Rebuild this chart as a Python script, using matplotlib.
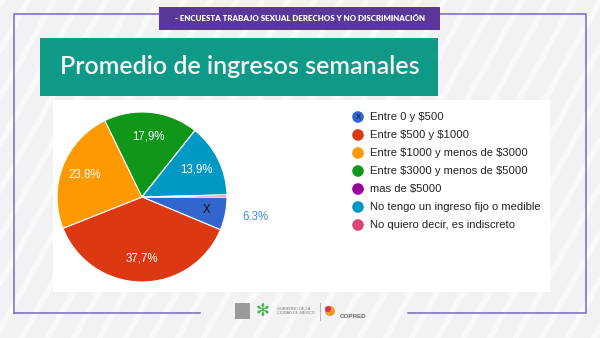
import numpy as np
import matplotlib.pyplot as plt
from matplotlib.patches import Rectangle, Circle

plt.rcParams['text.parse_math'] = False

# ── DATA ─────────────────────────────────────────────────────────────────────
categories = ['Entre 0 y $500', 'Entre $500 y $1000', 'Entre $1000 y menos de $3000',
              'Entre $3000 y menos de $5000', 'mas de $5000',
              'No tengo un ingreso fijo o medible', 'No quiero decir, es indiscreto']
shares = [6.3, 37.7, 23.8, 17.9, 0.0, 13.9, 0.4]
colors = ['#3366cc', '#dc3912', '#ff9900', '#109618', '#990099', '#0099c6', '#dd4477']
pct_labels = ['6.3%', '37,7%', '23,8%', '17,9%', '', '13,9%', '']

title = 'Promedio de ingresos semanales'
banner = '- ENCUESTA TRABAJO SEXUAL DERECHOS Y NO DISCRIMINACIÓN'

W, H = 600, 338
fig = plt.figure(figsize=(6, 3.38), dpi=100)
fig.patch.set_facecolor('#f2f2f4')

# ── BACKGROUND / FRAME (pixel coordinates, y down) ───────────────────────────
bg = fig.add_axes([0, 0, 1, 1])
bg.set_xlim(0, W)
bg.set_ylim(H, 0)
bg.axis('off')

# faint diagonal pattern
for x0 in np.arange(-400, 700, 26):
    bg.plot([x0, x0 + 200], [H + 10, -10], color='white', lw=4, alpha=0.6,
            solid_capstyle='butt', zorder=0)

# white panel behind the chart
bg.add_patch(Rectangle((53, 100), 497, 192, facecolor='white', edgecolor='none', zorder=1))

# purple frame with a gap for the logos
frame_c = '#7b68b8'
bg.plot([14, 14, 586, 586, 408], [313, 14, 14, 313, 313], color=frame_c, lw=1.1, zorder=2)
bg.plot([14, 200], [313, 313], color=frame_c, lw=1.1, zorder=2)

# top purple banner
bg.add_patch(Rectangle((159, 7), 281, 23, facecolor='#5a3798', edgecolor='none', zorder=3))
bg.text(300, 18.5, banner, color='white', fontsize=5.7, fontweight='heavy',
        ha='center', va='center', family='Lato', zorder=4)

# green title banner
bg.add_patch(Rectangle((40, 38), 398, 58, facecolor='#0e9a86', edgecolor='none', zorder=3))
bg.text(240, 66, title, color='#f4f4f4', fontsize=18, fontweight='semibold',
        ha='center', va='center', family='Lato', zorder=4)

# ── LEGEND ───────────────────────────────────────────────────────────────────
for i, (name, c) in enumerate(zip(categories, colors)):
    y = 117 + i * 18
    bg.add_patch(Circle((358, y), 5.8, facecolor=c, edgecolor='none', zorder=5))
    bg.text(370, y, name, fontsize=8.1, color='#222222', va='center',
            family='Liberation Sans', zorder=5)
bg.text(358, 117.5, 'X', fontsize=5.5, color='#111111', ha='center', va='center',
        family='Liberation Sans', zorder=6)

# ── FOOTER LOGOS ─────────────────────────────────────────────────────────────
bg.add_patch(Rectangle((235, 303), 15, 16, facecolor='#9a9a9a', edgecolor='none', zorder=3))
bg.text(263, 311, '✻', fontsize=12, color='#3cb44a', ha='center', va='center',
        family='DejaVu Sans', zorder=3)
bg.text(277, 311, 'GOBIERNO DE LA\nCIUDAD DE MÉXICO', fontsize=2.8, color='#777777',
        va='center', family='Liberation Sans', linespacing=1.3, zorder=3)
bg.plot([320, 320], [303, 320], color='#aaaaaa', lw=0.6, zorder=3)
bg.add_patch(Circle((330, 311), 5, facecolor='#f39a1f', edgecolor='none', zorder=3))
bg.add_patch(Circle((328, 309), 3, facecolor='#d6335c', edgecolor='none', zorder=3))
bg.text(340, 316, 'COPRED', fontsize=4.5, color='#666666', fontweight='bold',
        va='center', family='Liberation Sans', zorder=3)

# ── PIE ──────────────────────────────────────────────────────────────────────
cx, cy, r = 142, 197, 85
pax = fig.add_axes([(cx - r) / W, (H - cy - r) / H, 2 * r / W, 2 * r / H])
pax.pie(shares, colors=colors, startangle=0, counterclock=False, radius=1,
        wedgeprops=dict(edgecolor='white', linewidth=0.8))
pax.set_xlim(-1, 1)
pax.set_ylim(-1, 1)
pax.axis('off')

# slice labels placed at each wedge's mid angle
start = 0.0
total = sum(shares)
for i, (v, lab) in enumerate(zip(shares, pct_labels)):
    mid = np.deg2rad(start - v / total * 360 / 2)
    start -= v / total * 360
    if not lab:
        continue
    if i == 0:
        pax.text(0.77 * np.cos(mid), 0.77 * np.sin(mid), 'X', fontsize=8.3,
                 color='#111111', ha='center', va='center', family='Liberation Sans')
        pax.text(1.2 * np.cos(mid), 1.2 * np.sin(mid), lab, fontsize=8.3,
                 color='#3b8fe0', ha='left', va='center', family='Liberation Sans',
                 clip_on=False)
    else:
        pax.text(0.72 * np.cos(mid), 0.72 * np.sin(mid), lab, fontsize=8.3,
                 color='white', ha='center', va='center', family='Liberation Sans')

fig.savefig('out.png', dpi=100, facecolor=fig.get_facecolor())
